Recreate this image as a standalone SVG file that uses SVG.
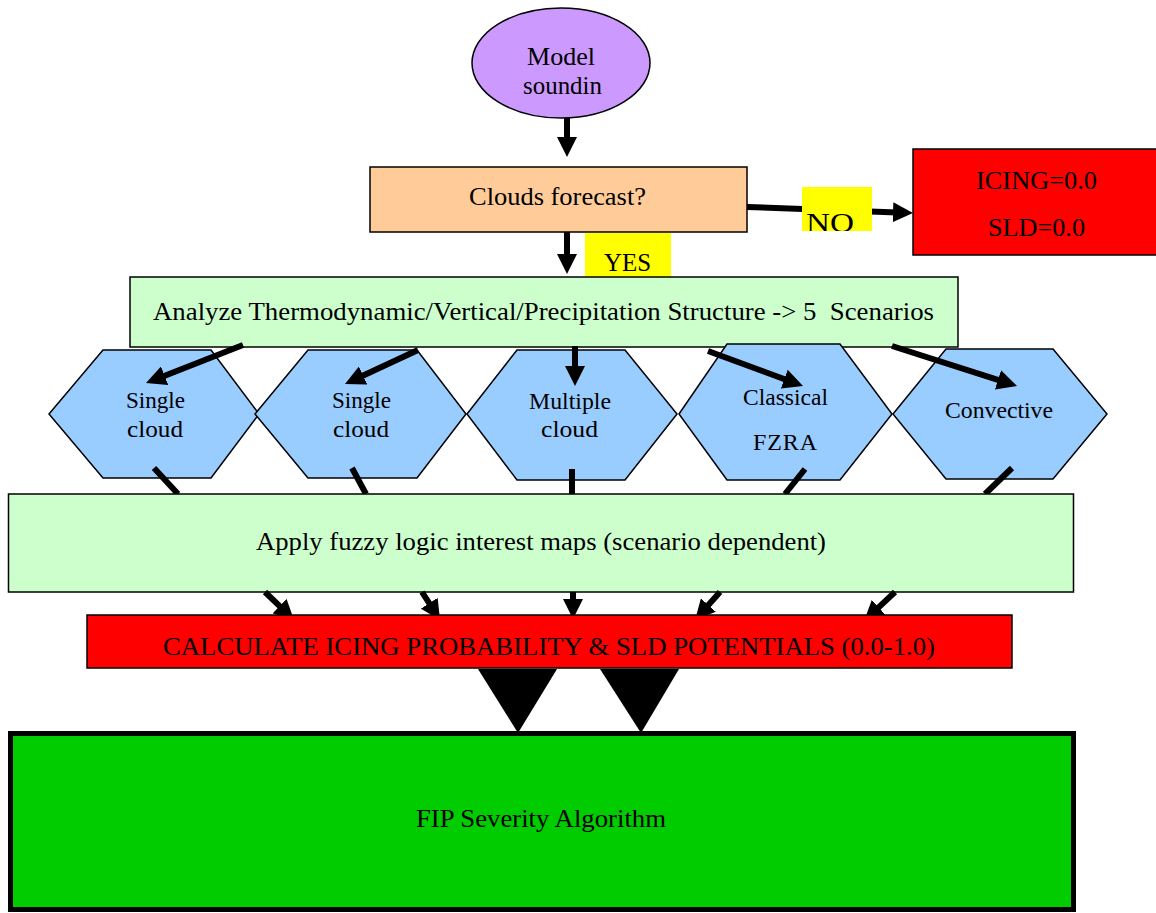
<svg xmlns="http://www.w3.org/2000/svg" width="1156" height="913" viewBox="0 0 1156 913">
  <style>
    text { font-family: "Liberation Serif", "Times New Roman", serif; fill: #000; }
    .lbl { font-size: 26px; }
    .hex-lbl { font-size: 24px; }
    .box { stroke: #000; stroke-width: 1.5; }
    .hex { fill: #99CCFF; stroke: #000; stroke-width: 1.5; }
    .conn { stroke: #000; stroke-width: 6; fill: none; }
    .arrow { marker-end: url(#head); }
  </style>
  <defs>
    <marker id="head" viewBox="0 0 20 20" refX="4" refY="10" markerWidth="20" markerHeight="20" markerUnits="userSpaceOnUse" orient="auto">
      <path d="M0,0 L20,10 L0,20 z" fill="#000"/>
    </marker>
    <clipPath id="no-clip">
      <rect x="802" y="187" width="70" height="44"/>
    </clipPath>
  </defs>

  <rect width="1156" height="913" fill="#fff"/>

  <!-- start: model sounding -->
  <g id="model-sounding">
    <ellipse cx="561" cy="63" rx="89" ry="55" fill="#CC99FF" stroke="#000" stroke-width="1.5"/>
    <text class="lbl" x="527" y="65" textLength="68" lengthAdjust="spacingAndGlyphs">Model</text>
    <text class="lbl" x="523" y="94" textLength="79" lengthAdjust="spacingAndGlyphs">soundin</text>
  </g>

  <!-- decision -->
  <g id="clouds-forecast">
    <rect class="box" x="370" y="167" width="377" height="65" fill="#FFCC99"/>
    <text class="lbl" x="469" y="205" textLength="177" lengthAdjust="spacingAndGlyphs">Clouds forecast?</text>
  </g>

  <g id="no-clouds">
    <rect class="box" x="913" y="149" width="250" height="106" fill="#FF0000"/>
    <text class="lbl" x="976" y="189" textLength="121" lengthAdjust="spacingAndGlyphs">ICING=0.0</text>
    <text class="lbl" x="988" y="236" textLength="97" lengthAdjust="spacingAndGlyphs">SLD=0.0</text>
  </g>

  <g id="connectors-top">
    <line class="conn arrow" x1="567" y1="118" x2="567" y2="141"/>
    <line class="conn arrow" x1="747" y1="207" x2="897" y2="212.4"/>
    <line class="conn arrow" x1="567" y1="232" x2="567" y2="258"/>
  </g>

  <!-- branch labels -->
  <g id="label-no">
    <rect x="802" y="187" width="70" height="44" fill="#FFFF00"/>
    <text x="806" y="232" font-size="27" textLength="48" lengthAdjust="spacingAndGlyphs" clip-path="url(#no-clip)">NO</text>
  </g>
  <g id="label-yes">
    <rect x="585" y="233" width="86" height="44" fill="#FFFF00"/>
    <text class="lbl" x="604" y="271" textLength="47" lengthAdjust="spacingAndGlyphs">YES</text>
  </g>

  <g id="analyze">
    <rect class="box" x="130" y="277" width="828" height="70" fill="#CCFFCC"/>
    <text class="lbl" x="153" y="320" textLength="781" lengthAdjust="spacingAndGlyphs" xml:space="preserve">Analyze Thermodynamic/Vertical/Precipitation Structure -&gt; 5  Scenarios</text>
  </g>

  <!-- five scenarios -->
  <g id="scenario-single-1">
    <polygon class="hex" points="49,414 103,350 211,350 259,414 211,478 103,478"/>
    <text class="hex-lbl" x="126" y="408" textLength="59" lengthAdjust="spacingAndGlyphs">Single</text>
    <text class="hex-lbl" x="127" y="437" textLength="56" lengthAdjust="spacingAndGlyphs">cloud</text>
  </g>
  <g id="scenario-single-2">
    <polygon class="hex" points="255,414 308,350 417,350 466,414 417,478 308,478"/>
    <text class="hex-lbl" x="332" y="408" textLength="59" lengthAdjust="spacingAndGlyphs">Single</text>
    <text class="hex-lbl" x="333" y="437" textLength="56" lengthAdjust="spacingAndGlyphs">cloud</text>
  </g>
  <g id="scenario-multiple">
    <polygon class="hex" points="467,414 517,350 625,350 677,414 625,480 517,480"/>
    <text class="hex-lbl" x="529" y="409" textLength="82" lengthAdjust="spacingAndGlyphs">Multiple</text>
    <text class="hex-lbl" x="541" y="437" textLength="57" lengthAdjust="spacingAndGlyphs">cloud</text>
  </g>
  <g id="scenario-fzra">
    <polygon class="hex" points="679,414 727,344 840,344 892,414 840,480 727,480"/>
    <text class="hex-lbl" x="743" y="405" textLength="85" lengthAdjust="spacingAndGlyphs">Classical</text>
    <text class="hex-lbl" x="753" y="450" textLength="64" lengthAdjust="spacing">FZRA</text>
  </g>
  <g id="scenario-convective">
    <polygon class="hex" points="893,414 946,349 1053,349 1107,414 1053,479 946,479"/>
    <text class="hex-lbl" x="945" y="418" textLength="108" lengthAdjust="spacingAndGlyphs">Convective</text>
  </g>

  <g id="connectors-scenarios">
    <line class="conn arrow" x1="243" y1="345" x2="160.9" y2="377.2"/>
    <line class="conn arrow" x1="418" y1="350" x2="359.5" y2="377.2"/>
    <line class="conn arrow" x1="575" y1="346" x2="575" y2="370"/>
    <line class="conn arrow" x1="708" y1="351" x2="788" y2="380.5"/>
    <line class="conn arrow" x1="892" y1="346" x2="1001.8" y2="381.1"/>
    <line class="conn" x1="154" y1="468" x2="178" y2="494"/>
    <line class="conn" x1="352" y1="468" x2="366" y2="494"/>
    <line class="conn" x1="572" y1="469" x2="572" y2="494"/>
    <line class="conn" x1="805" y1="469" x2="785" y2="494"/>
    <line class="conn" x1="1012" y1="468" x2="985" y2="494"/>
  </g>

  <g id="interest-maps">
    <rect class="box" x="8.5" y="494" width="1065" height="98" fill="#CCFFCC"/>
    <text class="lbl" x="256" y="550" textLength="570" lengthAdjust="spacingAndGlyphs">Apply fuzzy logic interest maps (scenario dependent)</text>
  </g>

  <g id="connectors-maps">
    <line class="conn arrow" x1="265" y1="592" x2="282.5" y2="608.9"/>
    <line class="conn arrow" x1="422" y1="592" x2="431.4" y2="606.6"/>
    <line class="conn arrow" x1="573" y1="592" x2="573" y2="603"/>
    <line class="conn arrow" x1="720" y1="592" x2="705.7" y2="608"/>
    <line class="conn arrow" x1="895" y1="592" x2="875.7" y2="610.1"/>
  </g>

  <g id="calculate">
    <rect class="box" x="87" y="615" width="925" height="53" fill="#FF0000"/>
    <text class="lbl" x="163" y="655" textLength="772" lengthAdjust="spacingAndGlyphs">CALCULATE ICING PROBABILITY &amp; SLD POTENTIALS (0.0-1.0)</text>
  </g>

  <g id="connectors-severity">
    <polygon points="478,669 557,669 518,733" fill="#000"/>
    <polygon points="600,669 679,669 641,733" fill="#000"/>
  </g>

  <g id="fip-severity">
    <rect x="10.5" y="733.5" width="1063" height="176" fill="#00CC00" stroke="#000" stroke-width="5"/>
    <text class="lbl" x="416" y="827" textLength="250" lengthAdjust="spacingAndGlyphs">FIP Severity Algorithm</text>
  </g>
</svg>
